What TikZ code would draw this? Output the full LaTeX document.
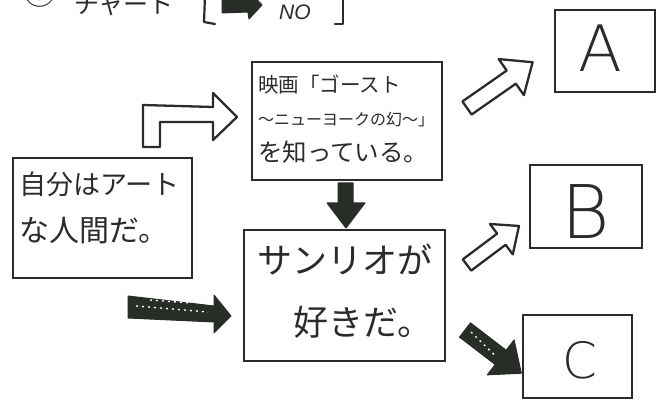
\documentclass[tikz,border=0pt]{standalone}
\usepackage{fontspec}
\setmainfont{Liberation Sans}
\newfontfamily\jp{Noto Sans CJK JP}
\newfontfamily\lat{Liberation Sans}
\IfFontExistsTF{DejaVu Sans ExtraLight}{\newfontfamily\thinf{DejaVu Sans ExtraLight}}{%
  \IfFontExistsTF{Lato Light}{\newfontfamily\thinf{Lato Light}}{\newfontfamily\thinf{Liberation Sans}}}
\definecolor{ink}{RGB}{40,45,40}
\begin{document}
\begin{tikzpicture}[x=1pt,y=-1pt,
  box/.style={draw=ink, line width=2.4pt, rectangle, inner sep=0pt},
  openarrow/.style={draw=ink, fill=white, line width=2.3pt, line join=round},
  blackarrow/.style={fill=ink, draw=ink, line width=1pt, line join=round},
  jptxt/.style={font=\jp, text=ink, inner sep=0pt, anchor=west},
  abc/.style={font=\thinf, text=ink, inner sep=0pt},
  speck/.style={white, line width=1.3pt, dash pattern=on 2pt off 4pt}]
\useasboundingbox (0,0) rectangle (662,406);

% header
\node[font=\jp\fontsize{33}{33}\selectfont, text=ink, inner sep=0pt] (num) at (40,-8) {③};
\node[font=\jp\fontsize{25}{25}\selectfont, text=ink, inner sep=0pt, anchor=base west] (title) at (74,14) {チャート};
\draw[ink, line width=2.2pt, line cap=round, line join=round] (205,-4) -- (204,22) -- (215,24);
\draw[blackarrow] (222,-2) -- (248,-2) -- (248,-10) -- (262,5) -- (249,19) -- (248,12) -- (222,13) -- cycle;
\node[font=\lat\itshape\fontsize{21}{21}\selectfont, text=ink, inner sep=0pt, anchor=base west] (no) at (279,20) {NO};
\draw[ink, line width=2.2pt, line cap=round, line join=round] (343,-4) -- (343,24) -- (335,24);

% boxes
\node[box, minimum width=190pt, minimum height=118pt] (b1) at (347,121) {};
\node[box, minimum width=179pt, minimum height=120pt] (b2) at (102.5,218) {};
\node[box, minimum width=201pt, minimum height=131pt] (b3) at (344.5,295.5) {};
\node[box, minimum width=100pt, minimum height=82pt] (ba) at (605,51) {};
\node[box, minimum width=112pt, minimum height=83pt] (bb) at (586,206.5) {};
\node[box, minimum width=109pt, minimum height=83pt] (bc) at (577.5,356.5) {};

% texts
\node[jptxt, font=\jp\fontsize{20.5}{20.5}\selectfont] (t1a) at (258,85) {映画「ゴースト};
\node[jptxt, font=\jp\fontsize{16}{16}\selectfont] (t1b) at (258,120) {～ニューヨークの幻～」};
\node[jptxt, font=\jp\fontsize{24.5}{24.5}\selectfont] (t1c) at (258,152) {を知っている。};
\node[jptxt, font=\jp\fontsize{27}{27}\selectfont] (t2a) at (19,184) {自分はアート};
\node[jptxt, font=\jp\fontsize{30}{30}\selectfont] (t2b) at (19,231) {な人間だ。};
\node[jptxt, font=\jp\fontsize{35}{35}\selectfont] (t3a) at (257,260) {サンリオが};
\node[jptxt, font=\jp\fontsize{35}{35}\selectfont] (t3b) at (293,322) {好きだ。};
\node[abc, font=\thinf\fontsize{64}{64}\selectfont] (la) at (600,48) {A};
\node[abc, font=\thinf\fontsize{74}{74}\selectfont] (lb) at (586,212) {B};
\node[abc, font=\thinf\fontsize{50}{50}\selectfont] (lc) at (580,360) {C};

% bent open arrow (b2 -> b1)
\draw[openarrow] (143,147) -- (143,105) -- (213,107) -- (213,93) -- (237,117) -- (213,140) -- (213,122) -- (160,122) -- (160,147) -- cycle;

% black down arrow (b1 -> b3)
\draw[blackarrow] (338,183) -- (353,183) -- (353,203) -- (365,203) -- (346,228) -- (327,203) -- (338,203) -- cycle;

% black right arrow (b2 -> b3)
\draw[blackarrow] (128,296) -- (214,306) -- (214,295) -- (231,316) -- (214,333) -- (214,322) -- (128,318) -- cycle;
\draw[speck] (136,306) -- (208,312);
\draw[speck] (150,300) -- (190,303);

% open arrow to A
\begin{scope}[shift={(467,108)}, rotate=34.9]
\draw[openarrow] (0,-8) -- (54,-8) -- (54,-22) -- (80,0) -- (54,22) -- (54,8) -- (0,8) -- cycle;
\end{scope}
% open arrow to B
\begin{scope}[shift={(467,265)}, rotate=36.9]
\draw[openarrow] (0,-7) -- (43,-7) -- (43,-19) -- (65,0) -- (43,19) -- (43,7) -- (0,7) -- cycle;
\end{scope}
% black arrow to C
\begin{scope}[shift={(465,330)}, rotate=-37.5]
\draw[blackarrow] (0,-9) -- (45,-9) -- (45,-22) -- (71,0) -- (45,22) -- (45,9) -- (0,9) -- cycle;
\draw[speck] (6,-2) -- (40,2);
\end{scope}
\end{tikzpicture}
\end{document}
